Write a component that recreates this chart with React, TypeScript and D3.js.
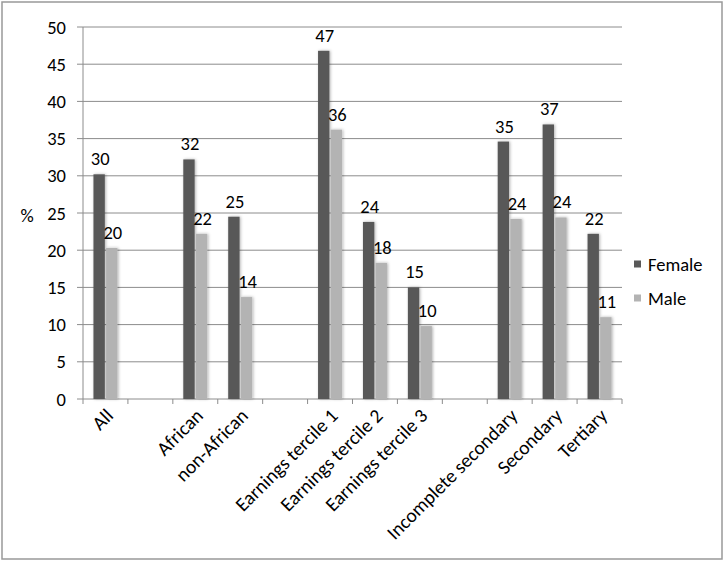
import React from 'react';
import * as d3 from 'd3';

// slots along the x axis; empty strings are the blank spacer slots
const categories = [
  'All', '', 'African', 'non-African', '',
  'Earnings tercile 1', 'Earnings tercile 2', 'Earnings tercile 3', '',
  'Incomplete secondary', 'Secondary', 'Tertiary',
];
const female = [30.2, null, 32.2, 24.5, null, 46.8, 23.8, 15.0, null, 34.6, 36.9, 22.2];
const male = [20.3, null, 22.2, 13.7, null, 36.2, 18.3, 9.8, null, 24.2, 24.4, 11.0];
const seriesNames = ['Female', 'Male'];
const yTicks = [0, 5, 10, 15, 20, 25, 30, 35, 40, 45, 50];

const colors: Record<string, string> = { Female: '#595959', Male: '#b3b3b3' };
const font = 'Carlito, Calibri, "Open Sans", sans-serif';
const fs = 18.5;

export default function App() {
  const width = 725;
  const height = 564;
  const plot = { left: 83, right: 622, top: 27, bottom: 399 };

  const keys = categories.map((c, i) => `${i}`);
  const x = d3.scaleBand<string>().domain(keys).range([plot.left, plot.right]).padding(0);
  const y = d3.scaleLinear().domain([0, 50]).range([plot.bottom, plot.top]);

  const groupW = 24;
  const inner = d3.scaleBand<string>().domain(seriesNames).range([-groupW / 2, groupW / 2]).paddingInner(0.1);

  const values: Record<string, (number | null)[]> = { Female: female, Male: male };

  return (
    <div style={{ position: 'absolute', left: 0, top: 0 }}>
      <svg width={width} height={height} style={{ display: 'block', fontFamily: font }}>
        <defs>
          <filter id="shadow" x="-50%" y="-10%" width="200%" height="120%">
            <feDropShadow dx="1" dy="0" stdDeviation="1.4" floodColor="#000" floodOpacity="0.3" />
          </filter>
        </defs>
        <rect x={2} y={2} width={720} height={557} fill="#fff" stroke="#999" strokeWidth={1.5} />

        {/* gridlines + y labels */}
        {yTicks.map(t => (
          <g key={t}>
            <line x1={plot.left - 6} x2={plot.right} y1={y(t)} y2={y(t)} stroke="#8c8c8c" strokeWidth={1} />
            <text x={66} y={y(t)} textAnchor="end" dominantBaseline="central" fontSize={fs} fill="#000">{t}</text>
          </g>
        ))}
        <text x={27} y={(plot.top + plot.bottom) / 2 + 2} textAnchor="middle" dominantBaseline="central" fontSize={fs}>%</text>

        {/* y axis and x ticks */}
        <line x1={plot.left} x2={plot.left} y1={plot.top} y2={plot.bottom} stroke="#8c8c8c" />
        {keys.concat(['end']).map((k, i) => {
          const xx = i < keys.length ? (x(k) as number) : plot.right;
          return <line key={k} x1={xx} x2={xx} y1={plot.bottom} y2={plot.bottom + 5} stroke="#8c8c8c" />;
        })}

        {/* bars */}
        {seriesNames.map(s =>
          keys.map((k, i) => {
            const v = values[s][i];
            if (v == null) return null;
            const cx = (x(k) as number) + x.bandwidth() / 2;
            const bx = cx + (inner(s) as number);
            return (
              <g key={`${s}-${k}`}>
                <rect x={bx} y={y(v)} width={inner.bandwidth()} height={plot.bottom - y(v)} fill={colors[s]} filter="url(#shadow)" />
                <text x={bx + inner.bandwidth() / 2 + 1} y={y(v) - 9} textAnchor="middle" fontSize={fs} fill="#000">{Math.round(v)}</text>
              </g>
            );
          })
        )}

        {/* x labels */}
        {keys.map((k, i) => {
          if (!categories[i]) return null;
          const cx = (x(k) as number) + x.bandwidth() / 2 + 4;
          const cy = plot.bottom + 13;
          return (
            <text key={k} x={cx} y={cy} textAnchor="end" dominantBaseline="central" fontSize={19.5}
              transform={`rotate(-45 ${cx} ${cy})`}>{categories[i]}</text>
          );
        })}

        {/* legend */}
        {seriesNames.map((s, i) => (
          <g key={s} transform={`translate(634, ${264 + i * 34})`}>
            <rect x={0} y={-3.5} width={7} height={7} fill={colors[s]} />
            <text x={14} y={0} dominantBaseline="central" fontSize={fs}>{s}</text>
          </g>
        ))}
      </svg>
    </div>
  );
}
